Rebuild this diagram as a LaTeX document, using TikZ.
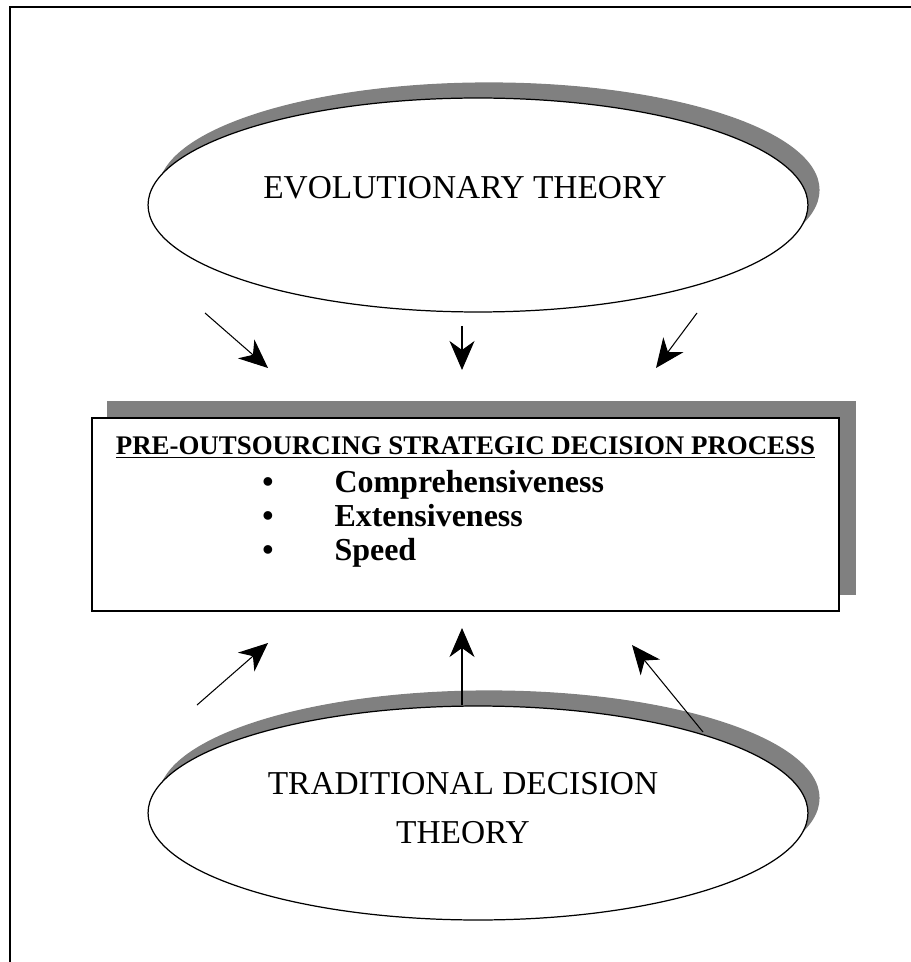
\documentclass[tikz,border=0pt]{standalone}
\usepackage{fontspec}
\setmainfont{Liberation Serif}
\usetikzlibrary{arrows.meta,positioning,shapes.geometric,shadows}

\begin{document}
\begin{tikzpicture}[x=0.02cm, y=-0.02cm,
    >={Stealth[length=0.58cm, width=0.5cm, inset=0.18cm]},
    theory/.style={ellipse, draw, line width=0.7pt, fill=white,
      minimum width=13.2cm, minimum height=4.28cm, inner sep=0pt,
      drop shadow={shadow xshift=0.22cm, shadow yshift=0.3cm,
        fill=black!50, draw=black!50, opacity=1}},
    theorytext/.style={align=center, font=\fontsize{19}{28}\selectfont},
    procbox/.style={rectangle, draw, line width=1pt, fill=white,
      minimum width=14.94cm, minimum height=3.86cm,
      drop shadow={shadow xshift=0.32cm, shadow yshift=0.33cm,
        fill=black!50, draw=black!50, opacity=1}},
    flow/.style={->, line width=0.6pt}]
  \useasboundingbox (0,0) rectangle (911,962);
  \clip (0,0) rectangle (911,962);

  % Frame
  \draw[line width=1.2pt] (10,7) rectangle (930,990);

  % Evolutionary theory
  \node[theory, label={[theorytext, xshift=-0.26cm, yshift=0.34cm]center:EVOLUTIONARY THEORY}]
    (evo) at (478,205) {};

  % Decision process
  \node[procbox] (proc) at (465.5,514.5) {};
  \node[below=0.38cm of proc.north, inner sep=0pt,
        font=\fontsize{15.3}{18}\selectfont\bfseries] (title)
    {\underline{PRE-OUTSOURCING STRATEGIC DECISION PROCESS}};
  \node[anchor=base west, inner sep=0pt,
        font=\fontsize{18.2}{19.5}\selectfont\bfseries] (items) at (262,492)
    {\begin{tabular}[t]{@{}l@{\hspace{1.22cm}}l@{}}
       \textbullet & Comprehensiveness\\
       \textbullet & Extensiveness\\
       \textbullet & Speed
     \end{tabular}};

  % Traditional decision theory
  \node[theory, label={[theorytext, xshift=-0.3cm, yshift=0.1cm]center:TRADITIONAL DECISION\\THEORY}]
    (trad) at (478,813) {};

  % Influence arrows (top)
  \coordinate (e1) at (205,313);
  \coordinate (e2) at (462,326);
  \coordinate (e3) at (697,313);
  \coordinate (p1) at (268,368);
  \coordinate (p2) at (462,370);
  \coordinate (p3) at (656,368);
  \draw[flow] (e1) -- (p1);
  \draw[flow] (e2) -- (p2);
  \draw[flow] (e3) -- (p3);

  % Influence arrows (bottom)
  \coordinate (t1) at (197,705);
  \coordinate (t2) at (462,705);
  \coordinate (t3) at (703,732);
  \coordinate (q1) at (268,643);
  \coordinate (q2) at (462,628);
  \coordinate (q3) at (632,645);
  \draw[flow] (t1) -- (q1);
  \draw[flow] (t2) -- (q2);
  \draw[flow] (t3) -- (q3);
\end{tikzpicture}
\end{document}
